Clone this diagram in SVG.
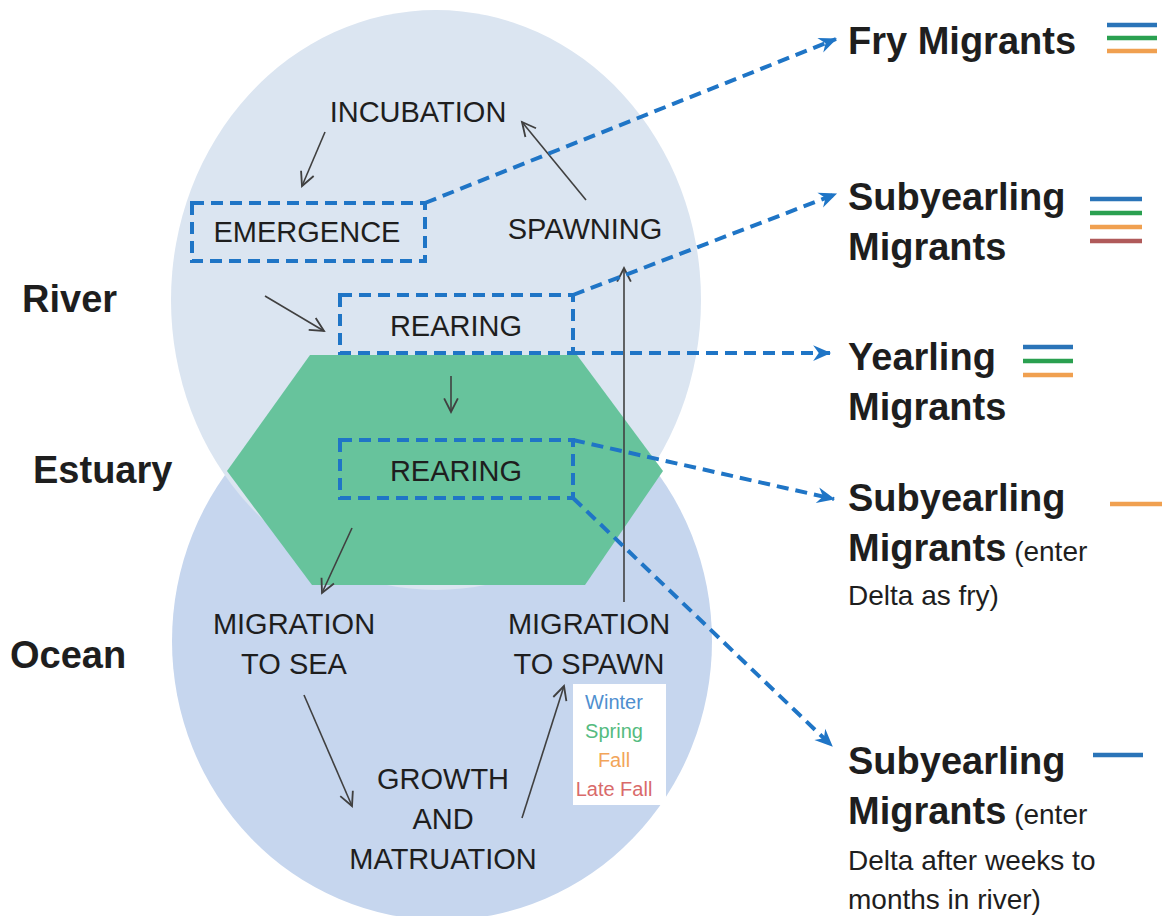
<svg xmlns="http://www.w3.org/2000/svg" width="1163" height="916" viewBox="0 0 1163 916">
<style>
text{font-family:"Liberation Sans",Arial,sans-serif;fill:#1e1e1e}
.lbl{font-size:29px;text-anchor:middle}
.big{font-size:38px;font-weight:bold}
.note{font-size:28px}
.dash{fill:none;stroke:#1f75c6;stroke-width:4;stroke-dasharray:12 7}
.conn{fill:none;stroke:#1f75c6;stroke-width:4;stroke-dasharray:12 7;marker-end:url(#blue)}
.thin{fill:none;stroke:#404040;stroke-width:1.6;marker-end:url(#ah)}
.key{stroke-width:4.5;fill:none}
.season{font-size:20px;text-anchor:middle}
</style>
<defs>
<marker id="ah" markerUnits="userSpaceOnUse" markerWidth="16" markerHeight="16" viewBox="0 0 14 14" refX="13" refY="7" orient="auto" overflow="visible">
<path d="M1,1 L13,7 L1,13" fill="none" stroke="#404040" stroke-width="1.6"/>
</marker>
<marker id="blue" markerUnits="userSpaceOnUse" markerWidth="18" markerHeight="18" viewBox="0 0 16 16" refX="15" refY="8" orient="auto" overflow="visible">
<path d="M0,1 L16,8 L0,15 L5,8 Z" fill="#1f75c6"/>
</marker>
</defs>
<rect width="1163" height="916" fill="#ffffff"/>

<g id="ocean-zone"><ellipse cx="442" cy="641" rx="270" ry="279" fill="#c6d6ee"/></g>
<g id="river-zone"><ellipse cx="436" cy="300" rx="265" ry="290" fill="#dbe5f1"/></g>
<g id="estuary-zone"><polygon points="310,355 577,355 663,471 585,585 312,585 227,471" fill="#67c39c"/></g>

<g id="region-labels">
<text class="big" x="22" y="312">River</text>
<text class="big" x="33" y="483">Estuary</text>
<text class="big" x="10" y="668">Ocean</text>
</g>

<g id="incubation"><text class="lbl" x="418" y="122">INCUBATION</text></g>
<g id="emergence">
<rect class="dash" x="192" y="203" width="233" height="58"/>
<text class="lbl" x="307" y="242">EMERGENCE</text>
</g>
<g id="spawning"><text class="lbl" x="585" y="239">SPAWNING</text></g>
<g id="rearing-river">
<rect class="dash" x="340" y="295" width="233" height="58"/>
<text class="lbl" x="456" y="336">REARING</text>
</g>
<g id="rearing-estuary">
<rect class="dash" x="340" y="440" width="233" height="58"/>
<text class="lbl" x="456" y="481">REARING</text>
</g>
<g id="migration-sea">
<text class="lbl" x="294" y="634">MIGRATION</text>
<text class="lbl" x="294" y="674">TO SEA</text>
</g>
<g id="migration-spawn">
<text class="lbl" x="589" y="634">MIGRATION</text>
<text class="lbl" x="589" y="674">TO SPAWN</text>
</g>
<g id="growth">
<text class="lbl" x="443" y="789">GROWTH</text>
<text class="lbl" x="443" y="829">AND</text>
<text class="lbl" x="443" y="869">MATRUATION</text>
</g>
<g id="season-key">
<rect x="573" y="684" width="93" height="121" fill="#ffffff"/>
<text class="season" x="614" y="709" style="fill:#4f8fcf">Winter</text>
<text class="season" x="614" y="738" style="fill:#55bb80">Spring</text>
<text class="season" x="614" y="767" style="fill:#f2a55a">Fall</text>
<text class="season" x="614" y="796" style="fill:#d96a6a">Late Fall</text>
</g>

<g id="out-fry">
<text class="big" x="848" y="54">Fry Migrants</text>
<line class="key" x1="1107" y1="25" x2="1157" y2="25" stroke="#2a74b8"/>
<line class="key" x1="1107" y1="38" x2="1157" y2="38" stroke="#2aa050"/>
<line class="key" x1="1107" y1="51" x2="1157" y2="51" stroke="#f0a050"/>
</g>
<g id="out-subyearling">
<text class="big" x="848" y="210">Subyearling</text>
<text class="big" x="848" y="260">Migrants</text>
<line class="key" x1="1090" y1="199" x2="1142" y2="199" stroke="#2a74b8"/>
<line class="key" x1="1090" y1="213" x2="1142" y2="213" stroke="#2aa050"/>
<line class="key" x1="1090" y1="227" x2="1142" y2="227" stroke="#f0a050"/>
<line class="key" x1="1090" y1="241" x2="1142" y2="241" stroke="#b05a5a"/>
</g>
<g id="out-yearling">
<text class="big" x="848" y="370">Yearling</text>
<text class="big" x="848" y="420">Migrants</text>
<line class="key" x1="1023" y1="347" x2="1073" y2="347" stroke="#2a74b8"/>
<line class="key" x1="1023" y1="361" x2="1073" y2="361" stroke="#2aa050"/>
<line class="key" x1="1023" y1="375" x2="1073" y2="375" stroke="#f0a050"/>
</g>
<g id="out-sub-fry">
<text class="big" x="848" y="511">Subyearling</text>
<text x="848" y="561"><tspan class="big">Migrants</tspan><tspan class="note"> (enter</tspan></text>
<text class="note" x="848" y="605">Delta as fry)</text>
<line class="key" x1="1110" y1="504" x2="1162" y2="504" stroke="#f0a050"/>
</g>
<g id="out-sub-river">
<text class="big" x="848" y="774">Subyearling</text>
<text x="848" y="824"><tspan class="big">Migrants</tspan><tspan class="note"> (enter</tspan></text>
<text class="note" x="848" y="870">Delta after weeks to</text>
<text class="note" x="848" y="909">months  in river)</text>
<line class="key" x1="1093" y1="755" x2="1143" y2="755" stroke="#2a74b8"/>
</g>

<g id="connectors">
<line class="thin" x1="325" y1="132" x2="302" y2="186"/>
<line class="thin" x1="586" y1="200" x2="522" y2="122"/>
<line class="thin" x1="265" y1="296" x2="324" y2="331"/>
<line class="thin" x1="451" y1="376" x2="451" y2="412"/>
<line class="thin" x1="352" y1="528" x2="322" y2="593"/>
<line class="thin" x1="624" y1="602" x2="624" y2="268"/>
<line class="thin" x1="304" y1="695" x2="352" y2="806"/>
<line class="thin" x1="522" y1="818" x2="564" y2="686"/>
<path class="conn" d="M425,203 L836,39"/>
<path class="conn" d="M573,295 L836,194"/>
<path class="conn" d="M573,353 L830,353"/>
<path class="conn" d="M573,440 L834,499"/>
<path class="conn" d="M573,498 L832,746"/>
</g>
</svg>
